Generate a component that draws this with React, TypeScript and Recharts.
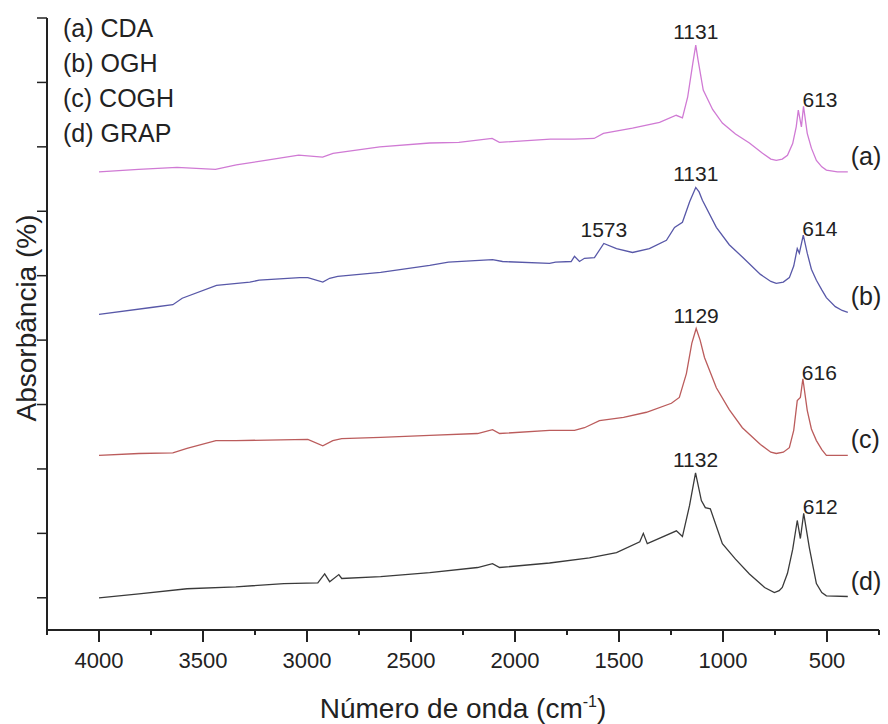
import React from 'react';
import { LineChart, Line, XAxis, YAxis, ReferenceDot } from 'recharts';

// wavenumbers (cm-1) and stacked absorbance
const cdaWave = [4000, 3810, 3625, 3440, 3340, 3200, 3040, 2925, 2875, 2650, 2410, 2270, 2110, 2075, 1830, 1715, 1620, 1575, 1435, 1305, 1225, 1195, 1170, 1145, 1131, 1120, 1095, 1050, 1003, 940, 873, 810, 770, 744, 715, 690, 665, 648, 638, 623, 613, 595, 575, 551, 525, 503, 450, 400];
const cdaAbs = [6.61, 6.65, 6.68, 6.65, 6.72, 6.79, 6.87, 6.84, 6.9, 7.0, 7.06, 7.07, 7.13, 7.07, 7.12, 7.12, 7.13, 7.21, 7.29, 7.38, 7.49, 7.45, 7.77, 8.3, 8.58, 8.35, 7.88, 7.58, 7.37, 7.2, 7.06, 6.9, 6.81, 6.79, 6.81, 6.87, 7.05, 7.31, 7.57, 7.31, 7.63, 7.21, 6.98, 6.79, 6.69, 6.64, 6.61, 6.61];

const oghWave = [4000, 3740, 3645, 3600, 3435, 3275, 3230, 3035, 2996, 2924, 2891, 2852, 2646, 2410, 2320, 2108, 2060, 1834, 1805, 1730, 1714, 1690, 1666, 1618, 1573, 1512, 1435, 1354, 1272, 1233, 1195, 1160, 1131, 1115, 1099, 1032, 970, 907, 820, 770, 744, 710, 681, 660, 643, 633, 614, 595, 575, 551, 525, 503, 460, 427, 400];
const oghAbs = [4.4, 4.51, 4.55, 4.65, 4.85, 4.9, 4.93, 4.97, 4.97, 4.9, 4.96, 4.99, 5.05, 5.16, 5.21, 5.25, 5.22, 5.19, 5.21, 5.22, 5.3, 5.22, 5.27, 5.28, 5.5, 5.42, 5.36, 5.42, 5.55, 5.75, 5.83, 6.15, 6.37, 6.3, 6.17, 5.75, 5.48, 5.29, 5.02, 4.91, 4.88, 4.9, 4.97, 5.15, 5.42, 5.35, 5.63, 5.35, 5.1, 4.93, 4.78, 4.66, 4.52, 4.46, 4.43];

const coghWave = [4000, 3808, 3645, 3577, 3438, 3342, 2996, 2924, 2876, 2833, 2646, 2410, 2180, 2108, 2074, 1834, 1714, 1666, 1594, 1478, 1368, 1248, 1210, 1176, 1150, 1129, 1110, 1089, 1032, 970, 907, 820, 770, 744, 710, 681, 660, 643, 628, 616, 595, 575, 551, 525, 503, 400];
const coghAbs = [2.21, 2.24, 2.25, 2.32, 2.44, 2.44, 2.46, 2.36, 2.44, 2.47, 2.49, 2.52, 2.55, 2.61, 2.55, 2.6, 2.6, 2.64, 2.75, 2.8, 2.88, 3.02, 3.11, 3.48, 3.95, 4.18, 4.0, 3.73, 3.26, 2.92, 2.64, 2.38, 2.26, 2.24, 2.26, 2.33, 2.6, 3.06, 3.11, 3.4, 2.91, 2.62, 2.44, 2.3, 2.21, 2.21];

const grapWave = [4000, 3808, 3577, 3342, 3111, 2948, 2915, 2891, 2847, 2833, 2646, 2410, 2180, 2108, 2074, 1834, 1642, 1512, 1400, 1383, 1364, 1224, 1195, 1161, 1132, 1104, 1085, 1061, 1003, 940, 873, 800, 753, 730, 715, 690, 665, 643, 628, 612, 585, 565, 551, 525, 503, 400];
const grapAbs = [0.0, 0.06, 0.14, 0.17, 0.22, 0.23, 0.37, 0.25, 0.36, 0.3, 0.33, 0.39, 0.47, 0.53, 0.47, 0.54, 0.62, 0.7, 0.87, 1.0, 0.84, 1.04, 0.95, 1.43, 1.94, 1.51, 1.4, 1.38, 0.84, 0.6, 0.37, 0.16, 0.08, 0.11, 0.16, 0.38, 0.75, 1.2, 0.92, 1.31, 0.78, 0.45, 0.22, 0.08, 0.03, 0.02];

const seriesNames = ['(a) CDA', '(b) OGH', '(c) COGH', '(d) GRAP'];
const seriesTags = ['(a)', '(b)', '(c)', '(d)'];
const seriesColors = ['#d07ad4', '#5858a8', '#bb5c5c', '#3a3a3a'];

const peakSeries = [0, 0, 1, 1, 1, 2, 2, 3, 3];
const peakWaves = [1131, 613, 1573, 1131, 614, 1129, 616, 1132, 612];

const xTicks = [4250, 4000, 3750, 3500, 3250, 3000, 2750, 2500, 2250, 2000, 1750, 1500, 1250, 1000, 750, 500, 250];
const xLabels = [4000, 3500, 3000, 2500, 2000, 1500, 1000, 500];
const yTicks = [0, 1, 2, 3, 4, 5, 6, 7, 8, 9];

const raw = [
  [cdaWave, cdaAbs],
  [oghWave, oghAbs],
  [coghWave, coghAbs],
  [grapWave, grapAbs],
];
const series = raw.map(([w, a]) => w.map((wave, i) => ({ wave, abs: a[i] })));

const ink = '#222';
const font = '"Liberation Sans", Arial, sans-serif';

const XTick = (props: any) => {
  const { x, y, payload } = props;
  const major = xLabels.includes(payload.value);
  return (
    <g>
      <line x1={x} x2={x} y1={y} y2={y + (major ? 12 : 5)} stroke={ink} strokeWidth={2} />
      {major && (
        <text x={x} y={y + 38} textAnchor="middle" fontSize={22} fill={ink} fontFamily={font}>
          {payload.value}
        </text>
      )}
    </g>
  );
};

export default function App() {
  return (
    <div style={{ position: 'relative', width: 888, height: 724, fontFamily: font }}>
      <style>{'body{margin:0}'}</style>
      <LineChart width={888} height={724} margin={{ top: 18, right: 9, left: 0, bottom: 0 }}>
        <XAxis
          type="number"
          dataKey="wave"
          domain={[250, 4250]}
          reversed
          ticks={xTicks}
          interval={0}
          tickSize={0}
          tickMargin={0}
          tickLine={false}
          tick={<XTick />}
          height={94}
          axisLine={{ stroke: ink, strokeWidth: 2 }}
          label={{
            content: (p: any) => {
              const vb = p.viewBox;
              return (
                <text x={vb.x + vb.width / 2} y={vb.y + 88} textAnchor="middle" fontSize={28} fill={ink} fontFamily={font}>
                  Número de onda (cm
                  <tspan dy={-11} fontSize={16}>-1</tspan>
                  <tspan dy={11}>)</tspan>
                </text>
              );
            },
          }}
        />
        <YAxis
          type="number"
          domain={[-0.5, 9]}
          ticks={yTicks}
          interval={0}
          width={47}
          tickSize={10}
          tickFormatter={() => ''}
          axisLine={{ stroke: ink, strokeWidth: 2 }}
          tickLine={{ stroke: ink, strokeWidth: 1.5 }}
          label={{
            content: (p: any) => {
              const vb = p.viewBox;
              const cx = vb.x + 26;
              const cy = vb.y + vb.height / 2 - 6;
              return (
                <text x={cx} y={cy} textAnchor="middle" dominantBaseline="central" fontSize={28} fill={ink} fontFamily={font} transform={`rotate(-90 ${cx} ${cy})`}>
                  Absorbância (%)
                </text>
              );
            },
          }}
        />
        {series.map((d, i) => (
          <Line
            key={seriesNames[i]}
            data={d}
            dataKey="abs"
            type="linear"
            stroke={seriesColors[i]}
            strokeWidth={1.3}
            dot={false}
            isAnimationActive={false}
          />
        ))}
        {peakWaves.map((w, i) => {
          const pt = series[peakSeries[i]].find((d) => d.wave === w)!;
          const small = w < 800;
          return (
            <ReferenceDot
              key={'pk' + i}
              x={pt.wave}
              y={pt.abs}
              r={0}
              fill="none"
              stroke="none"
              label={{
                content: (p: any) => {
                  const { x, y } = p.viewBox;
                  return (
                    <text x={small ? x - 1 : x} y={small ? y + 1 : y - 6} textAnchor={small ? 'start' : 'middle'} fontSize={21} fill={ink} fontFamily={font}>
                      {w}
                    </text>
                  );
                },
              }}
            />
          );
        })}
        {series.map((d, i) => {
          const last = d[d.length - 1];
          return (
            <ReferenceDot
              key={'tag' + i}
              x={last.wave}
              y={last.abs}
              r={0}
              fill="none"
              stroke="none"
              label={{
                content: (p: any) => {
                  const { x, y } = p.viewBox;
                  return (
                    <text x={x + 3} y={y - 7} fontSize={25} fill={ink} fontFamily={font}>
                      {seriesTags[i]}
                    </text>
                  );
                },
              }}
            />
          );
        })}
      </LineChart>
      <div style={{ position: 'absolute', left: 63, top: 11, fontSize: 25, lineHeight: '35px', color: ink }}>
        {seriesNames.map((n) => (
          <div key={n}>{n}</div>
        ))}
      </div>
    </div>
  );
}
